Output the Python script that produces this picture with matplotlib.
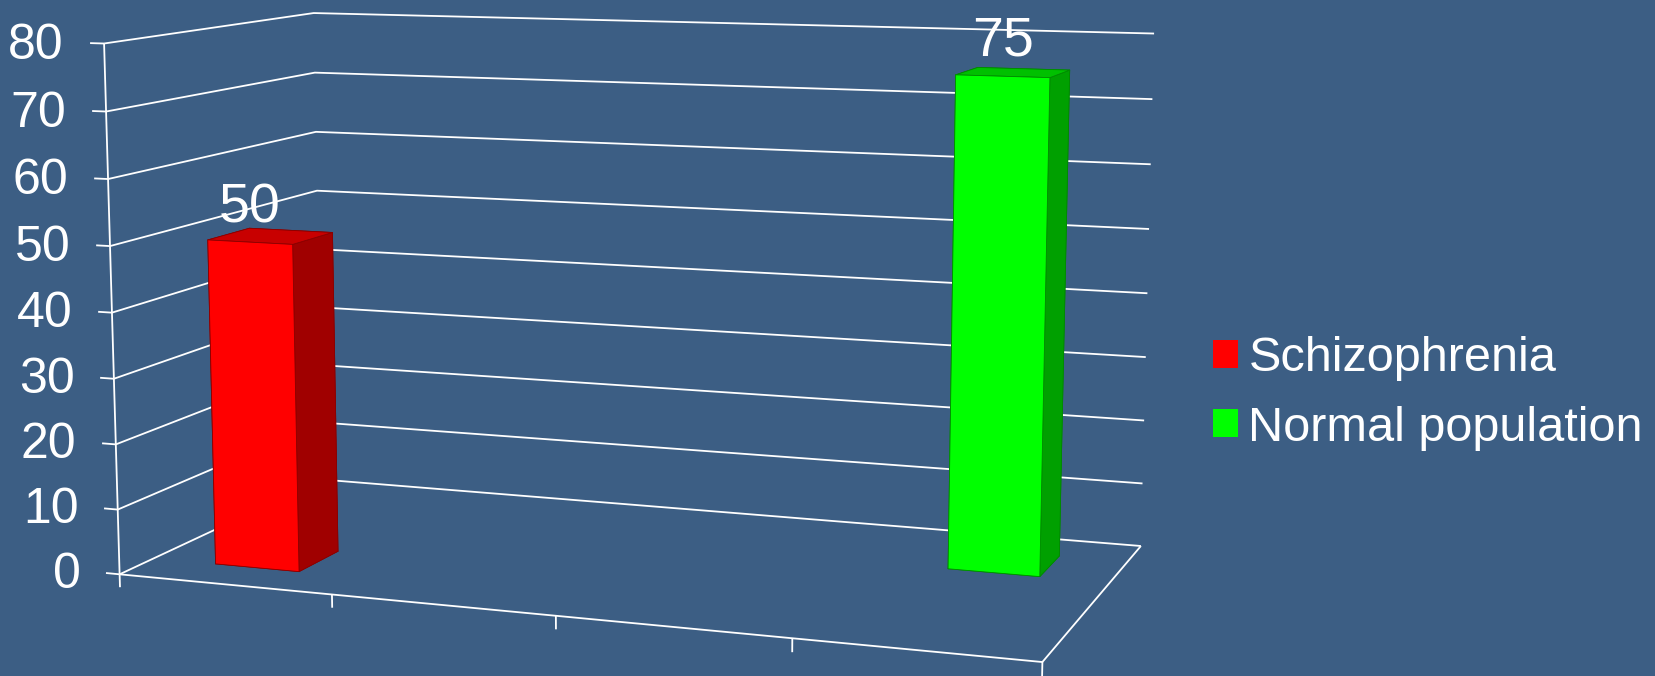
import matplotlib
matplotlib.use("Agg")
import matplotlib.pyplot as plt
from matplotlib.patches import Patch
from matplotlib.transforms import ScaledTranslation
from mpl_toolkits.mplot3d import proj3d

# ---------------- data ----------------
categories = ["1", "2", "3", "4"]            # category slots along the floor (unlabelled)
series_names = ["Schizophrenia", "Normal population"]
series_values = [50, 75]
series_category = [0, 3]                     # slot in which each series has its bar
value_ticks = [0, 10, 20, 30, 40, 50, 60, 70, 80]

# ---------------- style ----------------
BG = "#3C5E84"
front_colors = ["#FF0000", "#00FF00"]
top_colors = ["#C80000", "#00C000"]
side_colors = ["#A00000", "#00A000"]
edge_colors = ["#8A0000", "#008A00"]
FONT = "Liberation Sans"
BAR_W, BAR_D = 0.40, 0.39

fig = plt.figure(figsize=(16.56, 6.76), dpi=100)
fig.patch.set_facecolor(BG)
ax = fig.add_axes([0.034420, -0.308889, 0.684443, 1.676683],
                  projection="3d", computed_zorder=False)
ax.set_facecolor("none")
ax.set_axis_off()
ax.view_init(elev=9.25672, azim=-69.95435, roll=0.07213)
ax.set_proj_type("persp", focal_length=0.501170)
ax.set_box_aspect((1, 0.493052, 0.565655))

n_cat = len(categories)
n_ser = len(series_names)
zmax = value_ticks[-1]
ax.set_xlim(0, n_cat)
ax.set_ylim(0, n_ser)
ax.set_zlim(0, zmax)

line = dict(color="white", lw=1.3, solid_capstyle="butt", zorder=1)
# walls: horizontal gridlines on side wall and back wall, ticks
for z in value_ticks:
    ax.plot([0, 0, n_cat], [0, n_ser, n_ser], [z, z, z], **line)
    ax.plot([-0.066, 0], [0, 0], [z, z], **line)
# value axis line
ax.plot([0, 0], [0, 0], [0, zmax], **line)
# floor edges
ax.plot([0, n_cat, n_cat], [0, 0, n_ser], [0, 0, 0], **line)
# category tick marks on the front floor edge
for i in range(n_cat + 1):
    ax.plot([i, i], [0, 0], [0, -2.0], **line)

# bars (face order: -z, +z, -y, +y, -x, +x)
label_pts = []
for i, (v, c) in enumerate(zip(series_values, series_category)):
    x0 = c + 0.5 - BAR_W / 2
    y0 = i + 0.5 - BAR_D / 2
    faces = [top_colors[i], top_colors[i], front_colors[i],
             side_colors[i], side_colors[i], side_colors[i]]
    ax.bar3d(x0, y0, 0, BAR_W, BAR_D, v, color=faces, shade=False,
             edgecolor=edge_colors[i], linewidth=0.6, zorder=2)
    label_pts.append((c + 0.5, y0, v + 3.0, str(v)))

ax.set_xlim(0, n_cat)
ax.set_ylim(0, n_ser)
ax.set_zlim(0, zmax)

# texts placed through the 3D projection of the axes
M = ax.get_proj()
def to2d(x, y, z):
    xs, ys, _ = proj3d.proj_transform(x, y, z, M)
    return float(xs), float(ys)

tick_tr = ax.transData + ScaledTranslation(0, -0.04, fig.dpi_scale_trans)
for z in value_ticks:
    px, py = to2d(-0.19, 0, z)
    ax.text2D(px, py, str(z), transform=tick_tr, ha="right", va="center",
              color="white", fontsize=36, family=FONT, zorder=3)
for (x, y, z, s) in label_pts:
    px, py = to2d(x, y, z)
    ax.text2D(px, py, s, transform=ax.transData, ha="center", va="baseline",
              color="white", fontsize=40, family=FONT, zorder=3)

handles = [Patch(facecolor=c, edgecolor="none") for c in front_colors]
fig.legend(handles, series_names, loc="center left",
           bbox_to_anchor=(1213 / 1656, 282.5 / 676), frameon=False,
           prop={"family": FONT, "size": 35}, labelcolor="white",
           handlelength=0.51, handleheight=0.51, handletextpad=0.22,
           labelspacing=0.50, borderpad=0, borderaxespad=0)

fig.savefig("out.png", dpi=100, facecolor=BG)
